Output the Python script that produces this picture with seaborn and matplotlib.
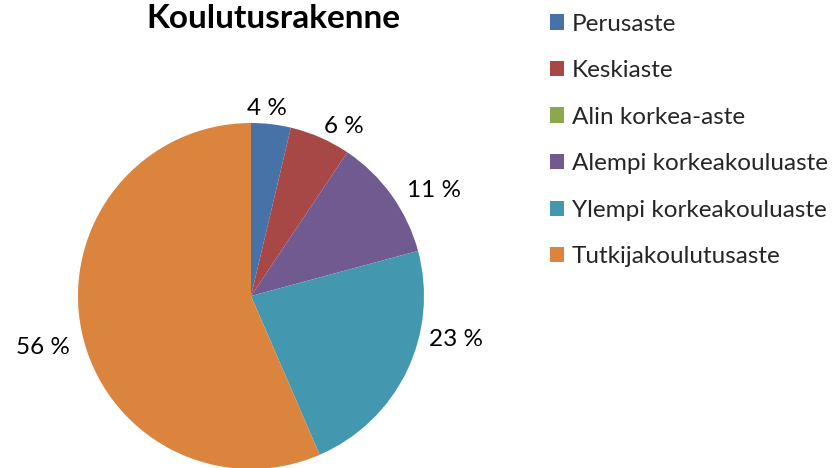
import numpy as np
import matplotlib
matplotlib.use("Agg")
import matplotlib.pyplot as plt
import seaborn as sns
from matplotlib.patches import Patch

# ── Data ──────────────────────────────────────────────────────────────────────
TITLE = "Koulutusrakenne"
LEVELS = ["Perusaste", "Keskiaste", "Alin korkea-aste",
          "Alempi korkeakouluaste", "Ylempi korkeakouluaste", "Tutkijakoulutusaste"]
SHARES = [3.7, 5.7, 0.0, 11.4, 22.7, 56.5]
COLORS = ["#4672A8", "#A84846", "#8BA84F", "#715A90", "#4398AF", "#DB843D"]

# label placement tweaks (degrees of rotation, radius), Excel-style outside-end
LABEL_NUDGE = [-1.9, 5.2, 0.0, 5.6, -13.7, -2.3]
LABEL_R = [1.09, 1.12, 1.0, 1.22, 1.21, 1.24]

sns.set_theme(style="white")
plt.rcParams["font.family"] = ["Lato", "DejaVu Sans"]

fig = plt.figure(figsize=(8.33, 4.68), dpi=100)
# pie centre ~ (251, 296) px, radius ~173 px
ax = fig.add_axes([78 / 833, (468 - 296 - 173) / 468, 346 / 833, 346 / 468])

palette = sns.color_palette(COLORS)
wedges, _ = ax.pie(SHARES, colors=palette, startangle=90, counterclock=False,
                   radius=1.0, wedgeprops=dict(linewidth=0))

for w, val, nudge, r in zip(wedges, SHARES, LABEL_NUDGE, LABEL_R):
    if val < 0.5:
        continue
    ang = np.deg2rad((w.theta1 + w.theta2) / 2 - nudge)
    ax.text(r * np.cos(ang), r * np.sin(ang), f"{val:.0f} %", ha="center", va="center",
            fontsize=17.5, color="black")

ax.set_xlim(-1, 1)
ax.set_ylim(-1, 1)
ax.set_aspect("equal")
ax.axis("off")

fig.text(273 / 833, 1 - 18 / 468, TITLE, ha="center", va="center",
         fontsize=24, fontweight="bold", color="black")

handles = [Patch(facecolor=c, edgecolor="none") for c in palette]
fig.legend(handles, LEVELS, loc="upper left", bbox_to_anchor=(540 / 833, 1 - 4 / 468),
           frameon=False, fontsize=17.5, handlelength=0.6, handleheight=0.6,
           handletextpad=0.3, labelspacing=1.05, borderaxespad=0)

fig.savefig("out.png", dpi=100)
